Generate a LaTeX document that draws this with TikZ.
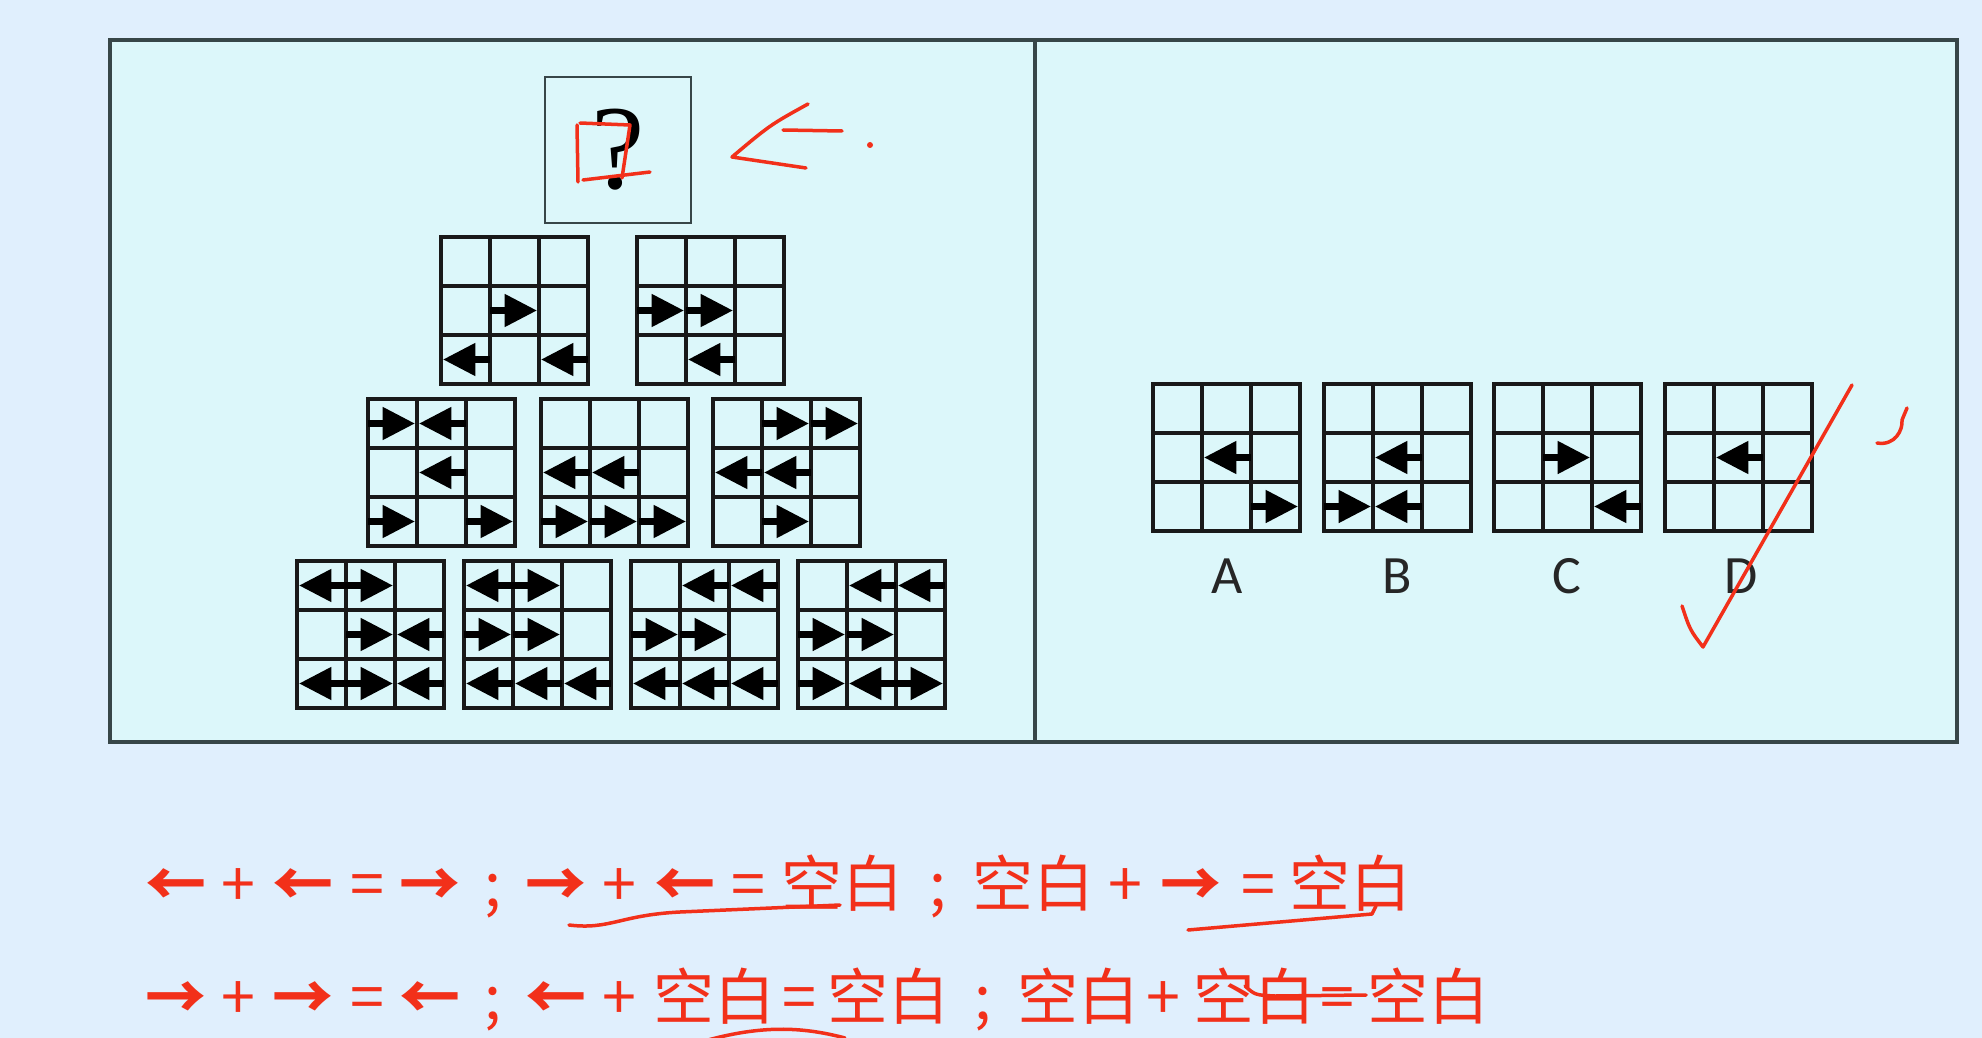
\documentclass[tikz,border=0pt]{standalone}
\usepackage{fontspec}
\newfontfamily\cjk{Noto Sans CJK SC}
\newfontfamily\lbl{Carlito}
\newfontfamily\qmk{Liberation Serif}
\definecolor{bgout}{RGB}{224,239,253}
\definecolor{bgin}{RGB}{220,247,250}
\definecolor{framec}{RGB}{55,70,72}
\definecolor{inkred}{RGB}{242,48,26}
\newcommand\la{{\bfseries ←}}
\newcommand\ra{{\bfseries →}}
\tikzset{
  gridline/.style={line width=3.2pt, black!90},
  qbox/.style={draw=framec, line width=2.5pt, minimum size=146pt, inner sep=0pt},
  redtxt/.style={inner sep=0pt, anchor=base, text=inkred, font=\cjk\fontsize{61}{61}\selectfont},
  optlbl/.style={inner sep=0pt, text=black!85, font=\lbl\fontsize{54}{54}\selectfont},
  pen/.style={draw=inkred, line width=3.5pt, line cap=round, line join=round},
}
\begin{document}
\begin{tikzpicture}[x=1pt, y=-1pt]
  \def\cS{49}
  % 背景
  \fill[bgout] (0,0) rectangle (1982,1038);
  \useasboundingbox (0,0) rectangle (1982,1038);
  % 题目框
  \fill[bgin] (110,40) rectangle (1957,742);
  \draw[framec, line width=4pt] (110,40) rectangle (1957,742);
  \draw[framec, line width=4pt] (1035,40) -- (1035,742);
  % 问号
  \node[qbox] (qm) at (618,150) {\qmk\fontsize{120}{120}\selectfont ?};
  % 九宫格与箭头（列/行/方向）
  \foreach \gx/\gy/\arr in {
      441/237/{1/1/1,0/2/-1,2/2/-1},
      637/237/{0/1/1,1/1/1,1/2/-1},
      368/399/{0/0/1,1/0/-1,1/1/-1,0/2/1,2/2/1},
      541/399/{0/1/-1,1/1/-1,0/2/1,1/2/1,2/2/1},
      713/399/{1/0/1,2/0/1,0/1/-1,1/1/-1,1/2/1},
      297/561/{0/0/-1,1/0/1,1/1/1,2/1/-1,0/2/-1,1/2/1,2/2/-1},
      464/561/{0/0/-1,1/0/1,0/1/1,1/1/1,0/2/-1,1/2/-1,2/2/-1},
      631/561/{1/0/-1,2/0/-1,0/1/1,1/1/1,0/2/-1,1/2/-1,2/2/-1},
      798/561/{1/0/-1,2/0/-1,0/1/1,1/1/1,0/2/1,1/2/-1,2/2/1},
      1153/384/{1/1/-1,2/2/1},
      1324/384/{1/1/-1,0/2/1,1/2/-1},
      1494/384/{1/1/1,2/2/-1},
      1665/384/{1/1/-1}%
  }{
    \draw[gridline] (\gx,\gy) rectangle ++(3*\cS,3*\cS);
    \foreach \k in {1,2}{
      \draw[gridline] (\gx+\k*\cS,\gy) -- ++(0,3*\cS);
      \draw[gridline] (\gx,\gy+\k*\cS) -- ++(3*\cS,0);
    }
    \foreach \i/\j/\d in \arr {
      \begin{scope}[shift={(\gx+\i*\cS+0.5*\cS,\gy+\j*\cS+0.5*\cS)}, xscale=\d]
        \fill (-0.5*\cS,-0.07*\cS) rectangle (-0.1*\cS,0.07*\cS);
        \fill (-0.2*\cS,-0.34*\cS) -- (0.45*\cS,0) -- (-0.2*\cS,0.34*\cS) -- cycle;
      \end{scope}
    }
  }
  % 选项字母
  \node[optlbl] (labA) at (1227,576) {A};
  \node[optlbl] (labB) at (1397,576) {B};
  \node[optlbl] (labC) at (1567,576) {C};
  \node[optlbl] (labD) at (1741,576) {D};
  % 规律文字
  \foreach \x/\t [count=\n] in {176/\la,238/+,303/\la,367/=,430/\ra,493/;,556/\ra,619/+,685/\la,
      748/=,842/空白,938/;,1033/空白,1125/+,1191/\ra,1258/=,1350/空白}
    \node[redtxt] (ra\n) at (\x,906) {\t};
  \foreach \x/\t [count=\n] in {176/\ra,238/+,303/\ra,367/=,430/\la,493/;,556/\la,619/+,714/空白,
      799/=,888/空白,983/;,1078/空白,1163/+,1254/空白,1337/=,1428/空白}
    \node[redtxt] (rb\n) at (\x,1019) {\t};
  % 红色批注
  \draw[pen] (577,125) -- (578,182);
  \draw[pen] (580,123) -- (630,125) -- (622,178);
  \draw[pen] (583,180) -- (650,172);
  \draw[pen] (808,104) .. controls (770,125) .. (732,157) -- (806,168);
  \draw[pen] (783,130) -- (842,131);
  \fill[inkred] (870,145) circle (3);
  \draw[pen] (1682,606) .. controls (1690,630) .. (1703,647) -- (1852,385);
  \draw[pen] (1877,443) .. controls (1895,446) and (1903,430) .. (1902,420) -- (1907,408);
  \draw[pen] (569,925) .. controls (610,930) and (620,915) .. (680,912) -- (840,905);
  \draw[pen] (1188,930) -- (1372,914) -- (1376,906);
  \draw[pen] (1245,986) .. controls (1255,995) .. (1275,996) -- (1366,995);
  \draw[pen] (708,1040) .. controls (760,1026) and (800,1026) .. (845,1038);
\end{tikzpicture}
\end{document}
